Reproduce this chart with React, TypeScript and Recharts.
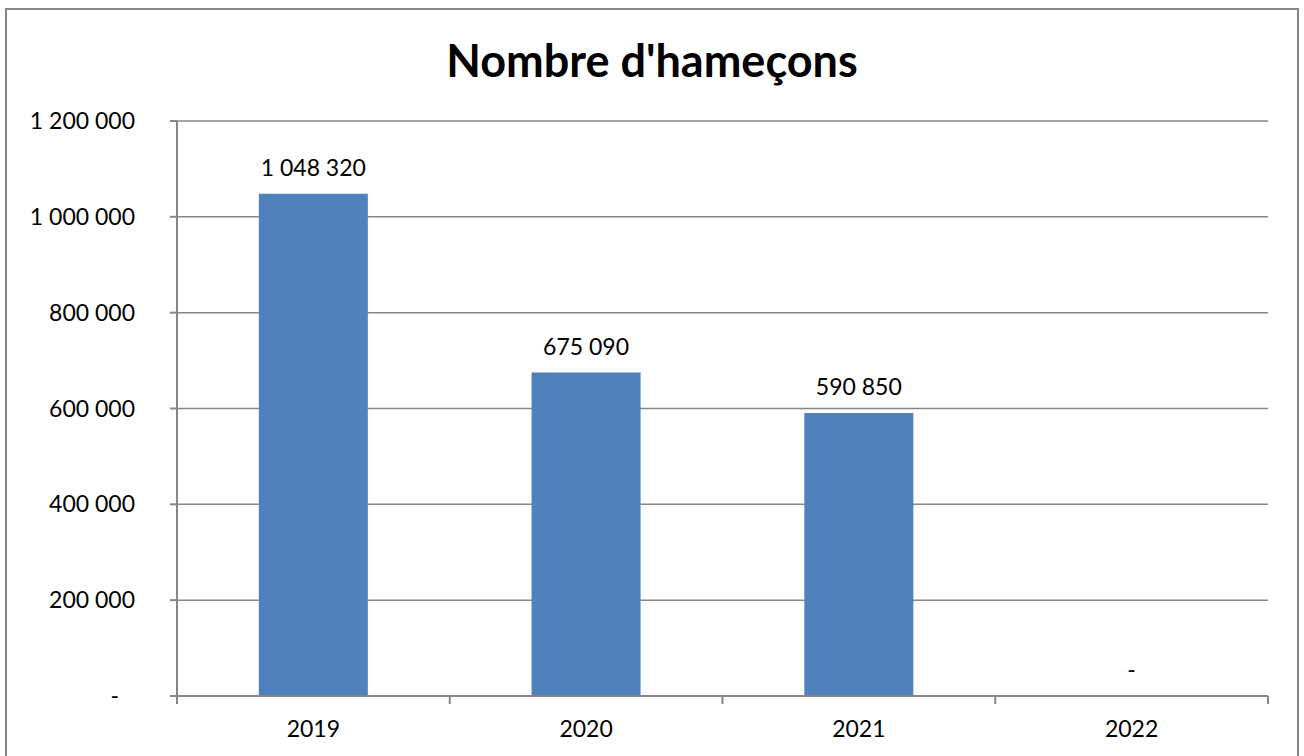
import React from "react";
import { BarChart, Bar, XAxis, YAxis, CartesianGrid, LabelList, ReferenceDot } from "recharts";

const years = ["2019", "2020", "2021", "2022"];
const hooks = [1048320, 675090, 590850, 0];
const yTicks = [0, 200000, 400000, 600000, 800000, 1000000, 1200000];

const data = years.map((year, i) => ({ year, hooks: hooks[i] }));

const FONT = "Lato, 'Open Sans', sans-serif";
const AXIS_GREY = "#868686";
const FS = 23;

const fmt = (v: number) =>
  v === 0 ? "-" : String(Math.round(v)).replace(/\B(?=(\d{3})+(?!\d))/g, " ");

// y tick: Excel-style accounting format, the dash for zero sits further left
const YTick = (props: any) => {
  const { x, y, payload } = props;
  const zero = payload.value === 0;
  return (
    <text
      x={zero ? x - 16 : x}
      y={y}
      dy={8}
      textAnchor="end"
      fontFamily={FONT}
      fontSize={FS}
      fill="#000"
    >
      {fmt(payload.value)}
    </text>
  );
};

// x tick: label in the middle of the band, tick marks on band boundaries
const XTick = (props: any) => {
  const { x, y, payload, index, width, visibleTicksCount } = props;
  const band = width / visibleTicksCount;
  const isLast = index === visibleTicksCount - 1;
  return (
    <g>
      <line x1={x - band / 2} x2={x - band / 2} y1={y - 8} y2={y} stroke={AXIS_GREY} strokeWidth={2} />
      {isLast && (
        <line x1={x + band / 2} x2={x + band / 2} y1={y - 8} y2={y} stroke={AXIS_GREY} strokeWidth={2} />
      )}
      <text x={x} y={y} dy={33} textAnchor="middle" fontFamily={FONT} fontSize={FS} fill="#000">
        {payload.value}
      </text>
    </g>
  );
};

export default function App() {
  return (
    <div style={{ position: "fixed", left: 0, top: 0, width: 1304, height: 756, background: "#fff", overflow: "hidden" }}>
      <div
        style={{
          position: "absolute",
          left: 5,
          top: 8,
          width: 1290,
          height: 760,
          border: `2px solid ${AXIS_GREY}`,
        }}
      />
      <div
        style={{
          position: "absolute",
          left: 0,
          top: 32,
          width: 1304,
          textAlign: "center",
          fontFamily: FONT,
          fontWeight: 700,
          fontSize: 45,
          color: "#000",
          lineHeight: "56px",
        }}
      >
        Nombre d'hameçons
      </div>
      <div style={{ position: "absolute", left: 0, top: 0 }}>
        <BarChart
          width={1304}
          height={756}
          data={data}
          margin={{ top: 121, right: 36, bottom: 0, left: 0 }}
          barCategoryGap="30%"
        >
          <CartesianGrid vertical={false} stroke={AXIS_GREY} strokeWidth={1.5} />
          <XAxis
            dataKey="year"
            height={60}
            axisLine={{ stroke: AXIS_GREY, strokeWidth: 2 }}
            tickLine={false}
            tick={<XTick />}
            interval={0}
          />
          <YAxis
            width={177}
            domain={[0, 1200000]}
            ticks={yTicks}
            interval={0}
            axisLine={{ stroke: AXIS_GREY, strokeWidth: 2 }}
            tickLine={{ stroke: AXIS_GREY, strokeWidth: 2 }}
            tickSize={7}
            tickMargin={35}
            tick={<YTick />}
          />
          <Bar dataKey="hooks" fill="#4F81BD" isAnimationActive={false}>
            <LabelList
              dataKey="hooks"
              position="top"
              offset={18}
              formatter={(v: any) => fmt(Number(v))}
              fontFamily={FONT}
              fontSize={FS}
              fill="#000"
            />
          </Bar>
          {data
            .filter((d) => d.hooks === 0)
            .map((d) => (
              <ReferenceDot
                key={d.year}
                x={d.year}
                y={d.hooks}
                r={0}
                fill="none"
                stroke="none"
                label={{
                  value: fmt(d.hooks),
                  position: "top",
                  offset: 18,
                  fontFamily: FONT,
                  fontSize: FS,
                  fill: "#000",
                }}
              />
            ))}
        </BarChart>
      </div>
    </div>
  );
}
